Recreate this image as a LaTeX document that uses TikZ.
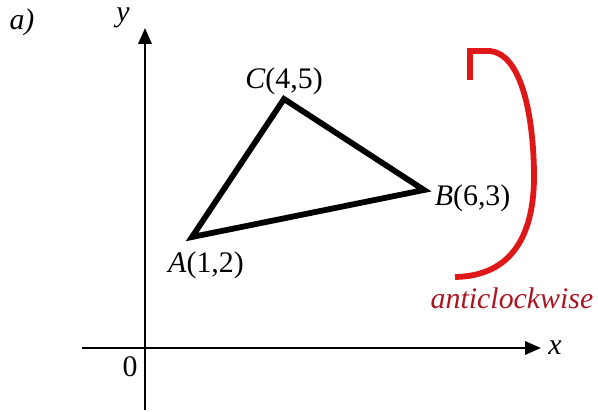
\documentclass[tikz,border=0pt]{standalone}
\usepackage{fontspec}
\setmainfont{Liberation Serif}
\usetikzlibrary{positioning,arrows.meta}
\definecolor{turnred}{RGB}{222,24,24}
\definecolor{textred}{RGB}{172,22,34}

\begin{document}
\begin{tikzpicture}[x=0.02cm, y=-0.02cm,
  axis/.style={-{Triangle[length=9pt,width=7.5pt]}, line width=1.3pt},
  tri/.style={line width=3.3pt, line join=miter},
  lbl/.style={font=\fontsize{17}{20}\selectfont, inner sep=1pt},
  turn/.style={draw=turnred, line width=3.3pt, line join=miter}]
\useasboundingbox (0,0) rectangle (598,412);

% axes
\coordinate (ybot) at (145,410);
\coordinate (ytop) at (145,28);
\coordinate (xleft) at (82,348);
\coordinate (xright) at (541,348);
\draw[axis] (ybot) -- (ytop);
\draw[axis] (xleft) -- (xright);
\node[lbl, font=\fontsize{17}{20}\selectfont\itshape] (ylab) at (123,18) {y};
\node[lbl, font=\fontsize{17}{20}\selectfont\itshape, right=3pt of xright] (xlab) {x};
\node[lbl] (orig) at (130,367) {0};
\node[lbl, font=\fontsize{17}{20}\selectfont\itshape] (part) at (22,22) {a)};

% triangle
\coordinate (A) at (192,237);
\coordinate (B) at (424,190);
\coordinate (C) at (284,99);
\draw[tri] (A) -- (B) -- (C) -- cycle;
\node[lbl] (Alab) at (206,265) {\textit{A}(1,2)};
\node[lbl, above=1pt of C] (Clab) {\textit{C}(4,5)};
\node[lbl, right=5pt of B, yshift=-5pt] (Blab) {\textit{B}(6,3)};

% sense of turn
\coordinate (tbot) at (455,277);
\coordinate (ttop) at (470,80);
\draw[turn] (tbot) .. controls (512,276) and (535,235) .. (534,172)
  .. controls (533,110) and (520,54) .. (490,51) -- (470,51) -- (ttop);
\node[lbl, text=textred, font=\fontsize{17}{20}\selectfont\itshape] (sense) at (512,298) {anticlockwise};
\end{tikzpicture}
\end{document}
